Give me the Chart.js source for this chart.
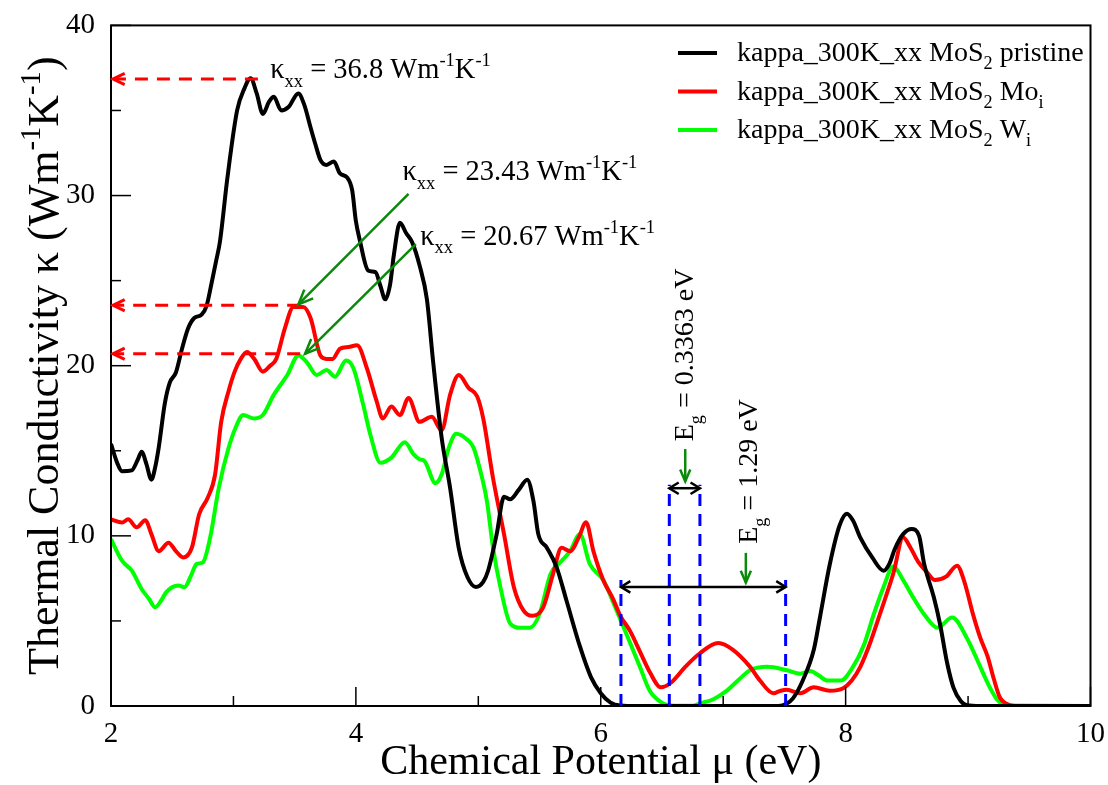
<!DOCTYPE html>
<html><head><meta charset="utf-8">
<script src="https://cdn.jsdelivr.net/npm/chart.js@4.4.0/dist/chart.umd.min.js"></script>
<style>html,body{margin:0;padding:0;background:#fff;}#wrap{width:1108px;height:785px;}</style>
</head><body><div id="wrap"><canvas id="c" width="1108" height="785"></canvas></div>
<script>
const xTickValues = [2, 4, 6, 8, 10];
const yTickValues = [0, 10, 20, 30, 40];

const pristineX = [2.00,2.05,2.09,2.17,2.22,2.25,2.29,2.33,2.36,2.39,2.44,2.48,2.53,2.58,2.63,2.68,2.74,2.78,2.82,2.86,2.89,2.95,3.03,3.09,3.14,3.19,3.24,3.29,3.33,3.39,3.45,3.53,3.58,3.63,3.67,3.71,3.76,3.82,3.87,3.93,3.97,4.00,4.03,4.10,4.16,4.20,4.24,4.28,4.31,4.36,4.41,4.46,4.52,4.58,4.63,4.70,4.77,4.84,4.91,4.98,5.04,5.08,5.15,5.21,5.26,5.33,5.40,5.45,5.49,5.56,5.64,5.72,5.83,5.92,6.00,6.08,6.16,6.30,7.00,7.45,7.52,7.57,7.65,7.74,7.79,7.87,7.95,8.01,8.06,8.12,8.22,8.31,8.36,8.40,8.47,8.54,8.60,8.64,8.72,8.77,8.83,8.88,8.94,8.99,9.10,10.00];
const pristineY = [15.4,14.3,13.8,13.85,14.5,14.95,14.2,13.3,14.0,15.2,17.8,19.0,19.6,21.0,22.2,22.8,23.0,23.5,24.8,26.2,27.3,31.0,35.0,36.3,36.9,36.0,34.8,35.5,35.8,35.0,35.2,36.0,35.3,34.0,33.0,32.1,31.8,32.0,31.3,31.05,30.3,28.5,27.45,25.6,25.5,24.7,23.9,24.8,26.5,28.4,27.8,27.25,25.9,23.9,20.3,15.8,12.8,9.3,7.6,7.0,7.3,7.95,10.1,12.3,12.15,12.7,13.3,12.05,10.1,9.3,8.15,6.2,3.5,1.7,0.75,0.2,0.03,0,0,0,0.15,0.45,1.5,3.3,5.2,8.3,10.6,11.3,10.9,9.9,8.7,7.95,8.4,9.2,10.1,10.4,10.0,8.4,6.4,4.85,2.5,1.1,0.3,0.05,0,0];

const moX = [2.00,2.09,2.14,2.21,2.28,2.33,2.39,2.47,2.53,2.59,2.66,2.72,2.79,2.85,2.90,2.96,3.01,3.06,3.11,3.17,3.24,3.30,3.35,3.42,3.49,3.57,3.63,3.71,3.76,3.81,3.87,3.94,4.01,4.09,4.17,4.22,4.29,4.36,4.43,4.52,4.62,4.70,4.77,4.84,4.92,4.99,5.04,5.12,5.21,5.29,5.37,5.44,5.53,5.61,5.68,5.75,5.82,5.88,5.94,6.02,6.10,6.16,6.24,6.32,6.40,6.49,6.57,6.69,6.81,6.96,7.08,7.22,7.30,7.41,7.47,7.52,7.63,7.74,7.87,7.98,8.05,8.12,8.20,8.28,8.39,8.47,8.53,8.59,8.66,8.73,8.82,8.91,8.97,9.04,9.10,9.16,9.21,9.26,9.31,9.38,10.00];
const moY = [10.97,10.78,10.97,10.5,10.92,10.1,9.1,9.6,9.1,8.73,9.3,11.27,12.24,13.6,16.7,18.5,19.65,20.4,20.8,20.4,19.65,20.0,20.4,22.2,23.45,23.45,22.8,20.6,20.4,20.4,21.0,21.1,21.2,19.85,17.9,16.9,17.6,17.1,18.1,16.7,17.0,16.2,18.3,19.45,18.7,18.2,16.9,13.4,10.1,7.0,5.6,5.3,5.8,7.75,9.3,9.1,9.9,10.8,9.1,7.4,6.3,5.3,4.4,3.2,2.0,1.1,1.35,2.3,3.1,3.7,3.3,2.3,1.5,0.75,0.9,0.95,0.75,1.1,0.9,1.05,1.5,2.3,3.7,5.4,7.8,9.9,9.3,8.5,7.9,7.4,7.6,8.25,7.3,5.4,4.0,2.9,1.6,0.5,0.15,0.02,0];

const wX = [2.00,2.09,2.17,2.25,2.31,2.36,2.41,2.45,2.55,2.60,2.65,2.70,2.75,2.81,2.88,2.96,3.02,3.08,3.17,3.24,3.33,3.44,3.53,3.60,3.68,3.76,3.83,3.92,3.98,4.06,4.12,4.20,4.29,4.40,4.47,4.52,4.56,4.65,4.70,4.76,4.82,4.91,4.96,5.01,5.07,5.12,5.18,5.26,5.34,5.42,5.50,5.59,5.67,5.75,5.83,5.91,6.02,6.13,6.24,6.32,6.40,6.51,6.60,6.75,6.81,6.92,7.03,7.12,7.22,7.36,7.52,7.63,7.71,7.78,7.85,7.96,8.06,8.15,8.23,8.31,8.39,8.47,8.55,8.65,8.75,8.87,8.99,9.10,9.17,9.24,9.30,9.40,10.00];
const wY = [9.8,8.54,7.95,6.88,6.3,5.8,6.2,6.68,7.08,6.98,7.6,8.35,8.44,9.9,12.8,15.16,16.4,17.1,16.9,17.1,18.3,19.45,20.6,20.2,19.45,19.75,19.35,20.3,19.85,17.7,15.9,14.3,14.6,15.5,14.8,14.5,14.4,13.1,13.6,15.2,16.0,15.65,15.2,14.0,12.05,9.3,7.0,4.85,4.6,4.6,5.4,7.75,8.45,9.1,10.1,8.35,7.4,5.6,3.7,2.3,0.9,0.15,0.02,0.02,0.15,0.4,0.9,1.5,2.1,2.3,2.1,1.9,2.05,1.8,1.5,1.5,2.3,3.6,5.4,7.0,8.2,7.4,6.4,5.3,4.6,5.2,4.0,2.3,1.2,0.35,0.05,0,0];

const seriesNames = [
  [{t:'kappa_300K_xx MoS'},{t:'2',s:'sub'},{t:' pristine'}],
  [{t:'kappa_300K_xx MoS'},{t:'2',s:'sub'},{t:' Mo'},{t:'i',s:'sub'}],
  [{t:'kappa_300K_xx MoS'},{t:'2',s:'sub'},{t:' W'},{t:'i',s:'sub'}]
];
const seriesColors = ['#000000', '#ff0000', '#00ff00'];

// annotation positions (data units)
const peakArrows = [ {from:3.20, y:36.85}, {from:3.545, y:23.55}, {from:3.545, y:20.70} ];
const pointerArrows = [ [4.43,30.1,3.53,23.6], [4.49,27.15,3.585,20.7] ];
const gapLines = [ {x:6.165, top:7.4}, {x:7.51, top:7.4}, {x:6.56, top:13.0}, {x:6.81, top:13.0} ];
const gapArrows = [ [6.165,7.51,7.0], [6.56,6.81,12.8] ];
const gapPointers = [ [6.69,15.1,13.2], [7.185,9.0,7.25] ];
const kappaLabels = [
  {x:3.30, y:36.9, parts:[{t:'κ'},{t:'xx',s:'sub'},{t:' = 36.8 Wm'},{t:'-1',s:'sup'},{t:'K'},{t:'-1',s:'sup'}]},
  {x:4.38, y:30.9, parts:[{t:'κ'},{t:'xx',s:'sub'},{t:' = 23.43 Wm'},{t:'-1',s:'sup'},{t:'K'},{t:'-1',s:'sup'}]},
  {x:4.525, y:27.1, parts:[{t:'κ'},{t:'xx',s:'sub'},{t:' = 20.67 Wm'},{t:'-1',s:'sup'},{t:'K'},{t:'-1',s:'sup'}]}
];
const gapLabels = [
  {x:6.755, y:15.56, parts:[{t:'E'},{t:'g',s:'sub'},{t:' = 0.3363 eV'}]},
  {x:7.278, y:9.53, parts:[{t:'E'},{t:'g',s:'sub'},{t:' = 1.29 eV'}]}
];
const xTitle = [{t:'Chemical Potential μ (eV)'}];
const yTitle = [{t:'Thermal Conductivity κ (Wm'},{t:'-1',s:'sup'},{t:'K'},{t:'-1',s:'sup'},{t:')'}];

const FONT = '"Liberation Serif", "Times New Roman", serif';
function setFont(ctx, size){ ctx.font = size + 'px ' + FONT; }
function richWidth(ctx, parts, size){ let w=0; for(const p of parts){ setFont(ctx, p.s? size*0.65: size); w += ctx.measureText(p.t).width; } return w; }
function drawRich(ctx, parts, x, y, size){
  let cx = x;
  for (const p of parts){
    const fs = p.s ? size*0.65 : size;
    setFont(ctx, fs);
    const dy = p.s==='sup' ? -size*0.42 : (p.s==='sub' ? size*0.3 : 0);
    ctx.fillText(p.t, cx, y+dy);
    cx += ctx.measureText(p.t).width;
  }
  return cx - x;
}
function head(ctx, x1,y1,x2,y2,len,ang){
  const a = Math.atan2(y2-y1, x2-x1);
  ctx.setLineDash([]);
  ctx.beginPath();
  ctx.moveTo(x2 - len*Math.cos(a-ang), y2 - len*Math.sin(a-ang));
  ctx.lineTo(x2, y2);
  ctx.lineTo(x2 - len*Math.cos(a+ang), y2 - len*Math.sin(a+ang));
  ctx.stroke();
}

const overlay = {
  id: 'overlay',
  afterDatasetsDraw(chart){
    const ctx = chart.ctx, xs = chart.scales.x, ys = chart.scales.y, ca = chart.chartArea;
    const X = v => xs.getPixelForValue(v), Y = v => ys.getPixelForValue(v);
    ctx.save();
    ctx.lineCap = 'butt';
    ctx.strokeStyle = '#000'; ctx.lineWidth = 2; ctx.setLineDash([]);
    ctx.strokeRect(ca.left, ca.top, ca.right-ca.left, ca.bottom-ca.top);
    ctx.lineWidth = 1.5;
    for (let v = 2; v <= 10; v += 1){
      const len = (v % 2 === 0) ? 19 : 10;
      ctx.beginPath(); ctx.moveTo(X(v), ca.bottom); ctx.lineTo(X(v), ca.bottom - len); ctx.stroke();
    }
    for (let v = 0; v <= 40; v += 5){
      const len = (v % 10 === 0) ? 20 : 10;
      ctx.beginPath(); ctx.moveTo(ca.left, Y(v)); ctx.lineTo(ca.left + len, Y(v)); ctx.stroke();
    }
    ctx.strokeStyle = '#ff0000'; ctx.lineWidth = 3;
    for (const a of peakArrows){
      ctx.setLineDash([13,9]);
      ctx.beginPath(); ctx.moveTo(X(a.from), Y(a.y)); ctx.lineTo(X(2)+3, Y(a.y)); ctx.stroke();
      head(ctx, X(a.from), Y(a.y), X(2)+2, Y(a.y), 13, 0.45);
    }
    ctx.strokeStyle = '#0a8a0a'; ctx.lineWidth = 2.5;
    for (const p of pointerArrows){
      ctx.setLineDash([]);
      ctx.beginPath(); ctx.moveTo(X(p[0]), Y(p[1])); ctx.lineTo(X(p[2]), Y(p[3])); ctx.stroke();
      head(ctx, X(p[0]), Y(p[1]), X(p[2]), Y(p[3]), 16, 0.4);
    }
    ctx.strokeStyle = '#0000ff'; ctx.lineWidth = 3;
    for (const g of gapLines){
      ctx.setLineDash([12,8]);
      ctx.beginPath(); ctx.moveTo(X(g.x), Y(0)); ctx.lineTo(X(g.x), Y(g.top)); ctx.stroke();
    }
    ctx.strokeStyle = '#000'; ctx.lineWidth = 2.5;
    for (const d of gapArrows){
      ctx.setLineDash([]);
      ctx.beginPath(); ctx.moveTo(X(d[0]), Y(d[2])); ctx.lineTo(X(d[1]), Y(d[2])); ctx.stroke();
      head(ctx, X(d[1]), Y(d[2]), X(d[0]), Y(d[2]), 11, 0.55);
      head(ctx, X(d[0]), Y(d[2]), X(d[1]), Y(d[2]), 11, 0.55);
    }
    ctx.strokeStyle = '#0a8a0a'; ctx.lineWidth = 2.5;
    for (const g of gapPointers){
      ctx.beginPath(); ctx.moveTo(X(g[0]), Y(g[1])); ctx.lineTo(X(g[0]), Y(g[2])); ctx.stroke();
      head(ctx, X(g[0]), Y(g[1]), X(g[0]), Y(g[2]), 13, 0.4);
    }
    ctx.fillStyle = '#000'; ctx.textBaseline = 'alphabetic'; ctx.textAlign = 'left';
    for (const k of kappaLabels) drawRich(ctx, k.parts, X(k.x), Y(k.y), 28.5);
    for (const g of gapLabels){
      ctx.save(); ctx.translate(X(g.x), Y(g.y)); ctx.rotate(-Math.PI/2);
      drawRich(ctx, g.parts, 0, 0, 28); ctx.restore();
    }
    for (let i = 0; i < seriesNames.length; i++){
      const ly = 53 + i*38.5;
      ctx.strokeStyle = seriesColors[i]; ctx.lineWidth = 4; ctx.setLineDash([]);
      ctx.beginPath(); ctx.moveTo(678, ly); ctx.lineTo(717, ly); ctx.stroke();
      ctx.fillStyle = '#000';
      drawRich(ctx, seriesNames[i], 737, ly + 8, 28);
    }
    const xw = richWidth(ctx, xTitle, 42);
    drawRich(ctx, xTitle, (ca.left+ca.right)/2 - xw/2, 774, 42);
    const yw = richWidth(ctx, yTitle, 44);
    ctx.save(); ctx.translate(58, (ca.top+ca.bottom)/2); ctx.rotate(-Math.PI/2);
    drawRich(ctx, yTitle, -yw/2, 0, 44); ctx.restore();
    ctx.restore();
  }
};

function pts(xa, ya){ return xa.map((x,i)=>({x:x, y:ya[i]})); }

new Chart(document.getElementById('c'), {
  type: 'line',
  data: { datasets: [
    {label:'pristine', data: pts(pristineX, pristineY), borderColor: seriesColors[0]},
    {label:'Mo_i', data: pts(moX, moY), borderColor: seriesColors[1]},
    {label:'W_i', data: pts(wX, wY), borderColor: seriesColors[2]}
  ]},
  options: {
    responsive: false, animation: false,
    layout: { padding: { top: 20, right: 15, left: 0, bottom: 0 } },
    elements: { point: { radius: 0 }, line: { borderWidth: 4, cubicInterpolationMode: 'monotone', fill: false } },
    plugins: { legend: { display: false }, tooltip: { enabled: false } },
    scales: {
      x: { type: 'linear', min: 2, max: 10,
        afterFit: s => { s.height = 79; },
        afterBuildTicks: s => { s.ticks = xTickValues.map(v => ({value: v})); },
        grid: { display: false }, border: { display: false },
        ticks: { color: '#000', padding: 3, font: { family: FONT, size: 29 }, maxRotation: 0 } },
      y: { type: 'linear', min: 0, max: 40,
        afterFit: s => { s.width = 111; },
        afterBuildTicks: s => { s.ticks = yTickValues.map(v => ({value: v})); },
        grid: { display: false }, border: { display: false },
        ticks: { color: '#000', padding: 8, font: { family: FONT, size: 29 } } }
    }
  },
  plugins: [overlay]
});
</script></body></html>
